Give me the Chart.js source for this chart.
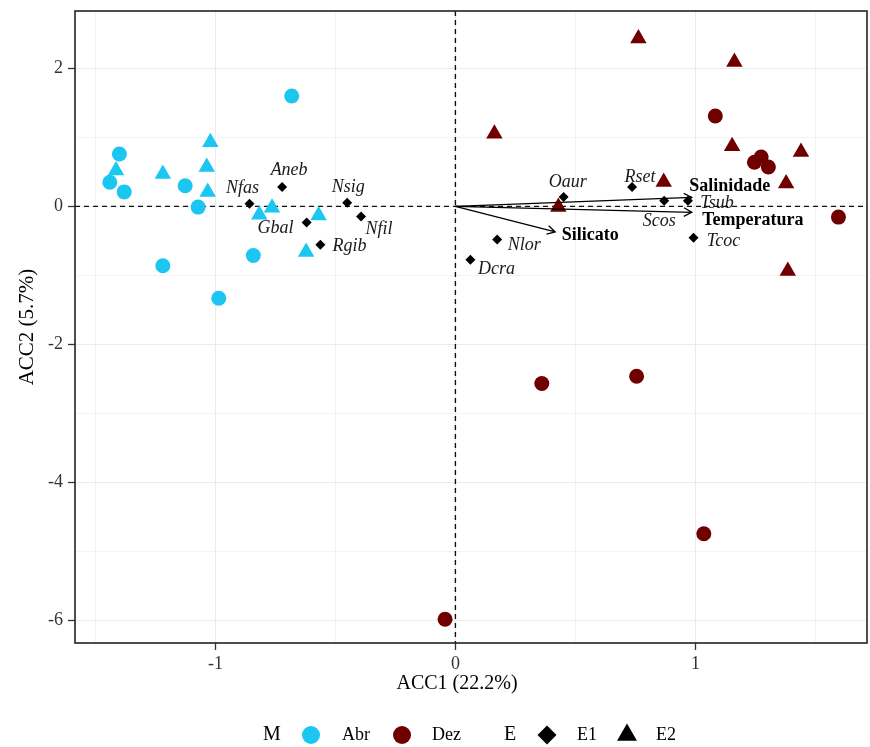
<!DOCTYPE html>
<html>
<head>
<meta charset="utf-8">
<script src="https://cdn.jsdelivr.net/npm/chart.js@4.4.1/dist/chart.umd.min.js"></script>
<style>
  html, body { margin: 0; padding: 0; background: #fff; }
  #wrap { width: 870px; height: 747px; }
</style>
</head>
<body>
<div id="wrap"><canvas id="chart1" width="870" height="747"></canvas></div>
<script>
//----------------- data ---------------------------------------------

// samples, month Abr (cyan) / Dez (dark red), station E1 (circle) / E2 (triangle)
const abrE1 = [[-0.682, 1.60], [-1.40, 0.76], [-1.44, 0.35], [-1.38, 0.21], [-1.126, 0.30],
               [-1.072, -0.01], [-1.219, -0.86], [-0.842, -0.71], [-0.986, -1.33]];
const abrE2 = [[-1.021, 0.93], [-1.414, 0.52], [-1.219, 0.47], [-1.036, 0.57], [-1.032, 0.21],
               [-0.817, -0.12], [-0.764, -0.02], [-0.570, -0.13], [-0.622, -0.66]];
const dezE1 = [[1.083, 1.31], [1.246, 0.64], [1.274, 0.715], [1.304, 0.57], [1.596, -0.155],
               [0.360, -2.565], [0.755, -2.46], [1.035, -4.74], [-0.043, -5.98]];
const dezE2 = [[0.7625, 2.43], [1.1625, 2.09], [0.1625, 1.054], [1.153, 0.87], [1.44, 0.787],
               [1.378, 0.33], [0.868, 0.352], [0.429, -0.01], [1.385, -0.937]];

// species scores
const speciesNames = ["Aneb", "Nfas", "Nsig", "Nfil", "Gbal", "Rgib", "Oaur",
                      "Rset", "Scos", "Tsub", "Tcoc", "Nlor", "Dcra"];
const speciesX = [-0.722, -0.858, -0.451, -0.393, -0.620, -0.5625, 0.451,
                  0.736, 0.870, 0.969, 0.992, 0.174, 0.0625];
const speciesY = [0.28, 0.04, 0.053, -0.145, -0.232, -0.555, 0.135,
                  0.28, 0.083, 0.083, -0.454, -0.478, -0.773];

// environmental vectors
const envNames = ["Salinidade", "Temperatura", "Silicato"];
const envX = [0.985, 0.985, 0.416];
const envY = [0.13, -0.085, -0.37];

// axes
const xTicks = [-1, 0, 1];
const yTicks = [2, 0, -2, -4, -6];
const xMinor = [-1.5, -0.5, 0.5, 1.5];
const yMinor = [1, -1, -3, -5];
const xTitle = "ACC1 (22.2%)";
const yTitle = "ACC2 (5.7%)";

//----------------- styles ----------------------------------------
const cyan = "#1bc6f1";
const darkRed = "#700000";
const serif = "'Liberation Serif', 'Times New Roman', serif";

// label offsets in px from the point (centre of text)
const speciesLabelPos = {
    Aneb: [7, -17], Nfas: [-7, -15], Nsig: [1, -15], Nfil: [18, 13], Gbal: [-31, 6],
    Rset: [8, -10], Rgib: [29, 2], Oaur: [4, -15], Scos: [-5, 21], Tsub: [29, 3],
    Tcoc: [30, 4], Nlor: [27, 6], Dcra: [26, 9]
};
const envLabelPos = { Salinidade: [38, -11], Temperatura: [61, 8], Silicato: [35, 3] };

const toPts = arr => arr.map(p => ({ x: p[0], y: p[1] }));

//----------------- plugins ----------------------------------------
const zeroLines = {
    id: "zeroLines",
    beforeDatasetsDraw(chart) {
        const { ctx, chartArea: a, scales: { x, y } } = chart;
        ctx.save();
        ctx.strokeStyle = "#111";
        ctx.lineWidth = 1.4;
        ctx.setLineDash([5, 4]);
        const px = x.getPixelForValue(0), py = y.getPixelForValue(0);
        ctx.beginPath();
        ctx.moveTo(px, a.top); ctx.lineTo(px, a.bottom);
        ctx.moveTo(a.left, py); ctx.lineTo(a.right, py);
        ctx.stroke();
        ctx.restore();
    }
};

const biplot = {
    id: "biplot",
    afterDatasetsDraw(chart) {
        const { ctx, scales: { x, y } } = chart;
        const ox = x.getPixelForValue(0), oy = y.getPixelForValue(0);
        ctx.save();
        ctx.strokeStyle = "#000";
        ctx.lineWidth = 1.3;
        ctx.setLineDash([]);
        for (let i = 0; i < envNames.length; i++) {
            const tx = x.getPixelForValue(envX[i]), ty = y.getPixelForValue(envY[i]);
            const ang = Math.atan2(ty - oy, tx - ox);
            ctx.beginPath();
            ctx.moveTo(ox, oy); ctx.lineTo(tx, ty);
            ctx.moveTo(tx - 9 * Math.cos(ang - 0.5), ty - 9 * Math.sin(ang - 0.5));
            ctx.lineTo(tx, ty);
            ctx.lineTo(tx - 9 * Math.cos(ang + 0.5), ty - 9 * Math.sin(ang + 0.5));
            ctx.stroke();
        }
        ctx.textAlign = "center";
        ctx.textBaseline = "middle";
        ctx.fillStyle = "#000";
        ctx.font = "bold 18px " + serif;
        for (let i = 0; i < envNames.length; i++) {
            const off = envLabelPos[envNames[i]];
            ctx.fillText(envNames[i], x.getPixelForValue(envX[i]) + off[0], y.getPixelForValue(envY[i]) + off[1]);
        }
        ctx.fillStyle = "#1a1a1a";
        ctx.font = "italic 18px " + serif;
        for (let i = 0; i < speciesNames.length; i++) {
            const off = speciesLabelPos[speciesNames[i]];
            ctx.fillText(speciesNames[i], x.getPixelForValue(speciesX[i]) + off[0], y.getPixelForValue(speciesY[i]) + off[1]);
        }
        ctx.restore();
    }
};

const frameAndLegend = {
    id: "frameAndLegend",
    afterDraw(chart) {
        const { ctx, chartArea: a } = chart;
        ctx.save();
        ctx.strokeStyle = "#222";
        ctx.lineWidth = 1.6;
        ctx.strokeRect(a.left, a.top, a.right - a.left, a.bottom - a.top);

        // x axis title (sits a little left of the panel centre in the original)
        ctx.textBaseline = "middle";
        ctx.textAlign = "center";
        ctx.fillStyle = "#000";
        ctx.font = "20px " + serif;
        ctx.fillText(xTitle, 457, 684);

        // legend along the bottom
        const ly = 735;
        ctx.font = "20px " + serif;
        ctx.fillText("M", 272, ly);
        ctx.fillText("E", 510, ly);
        ctx.textAlign = "left";
        ctx.font = "18px " + serif;
        ctx.fillText("Abr", 342, ly);
        ctx.fillText("Dez", 432, ly);
        ctx.fillText("E1", 577, ly);
        ctx.fillText("E2", 656, ly);
        const marks = [
            [cyan, "circle", 9, 311],
            [darkRed, "circle", 9, 402],
            ["#000", "rectRot", 9.5, 547],
            ["#000", "triangle", 11.5, 627]
        ];
        marks.forEach(m => {
            ctx.fillStyle = m[0];
            Chart.helpers.drawPoint(ctx, { pointStyle: m[1], radius: m[2], rotation: 0, borderWidth: 0 }, m[3], ly);
        });
        ctx.restore();
    }
};

//----------------- chart ----------------------------------------
function scatterSet(label, pts, color, style, radius) {
    return {
        label: label,
        data: pts,
        backgroundColor: color,
        borderColor: color,
        borderWidth: 0,
        pointStyle: style,
        pointRadius: radius,
        pointHoverRadius: radius
    };
}

function noPad(s) {
    s.paddingLeft = 0; s.paddingRight = 0; s.paddingTop = 0; s.paddingBottom = 0;
}

const tickFont = { family: serif, size: 18 };
const titleFont = { family: serif, size: 21 };

const config = {
    type: "scatter",
    data: {
        datasets: [
            scatterSet("Abr E1", toPts(abrE1), cyan, "circle", 7.5),
            scatterSet("Dez E1", toPts(dezE1), darkRed, "circle", 7.5),
            scatterSet("Abr E2", toPts(abrE2), cyan, "triangle", 9.5),
            scatterSet("Dez E2", toPts(dezE2), darkRed, "triangle", 9.5),
            scatterSet("Species", speciesX.map((v, i) => ({ x: v, y: speciesY[i] })), "#000", "rectRot", 5)
        ]
    },
    options: {
        responsive: false,
        animation: false,
        devicePixelRatio: 1,
        layout: { autoPadding: false, padding: { left: 0, top: 11, right: 3, bottom: 44 } },
        plugins: { legend: { display: false }, tooltip: { enabled: false } },
        scales: {
            x: {
                type: "linear",
                min: -1.585,
                max: 1.715,
                afterBuildTicks: s => { s.ticks = [...xMinor, ...xTicks].sort((a, b) => a - b).map(v => ({ value: v })); },
                afterFit: s => { s.height = 60; noPad(s); },
                ticks: {
                    autoSkip: false, maxRotation: 0, padding: 3, color: "#333", font: tickFont,
                    callback: v => xTicks.includes(v) ? String(v) : ""
                },
                grid: {
                    color: "#ebebeb",
                    lineWidth: c => xTicks.includes(c.tick.value) ? 1 : 0.6,
                    tickLength: 7,
                    tickColor: c => xTicks.includes(c.tick.value) ? "#333" : "rgba(0,0,0,0)",
                    tickWidth: 1.3
                },
                border: { display: false },
                title: { display: false }
            },
            y: {
                type: "linear",
                min: -6.323,
                max: 2.83,
                afterBuildTicks: s => { s.ticks = [...yMinor, ...yTicks].sort((a, b) => a - b).map(v => ({ value: v })); },
                afterFit: s => { s.width = 75; noPad(s); },
                ticks: {
                    autoSkip: false, padding: 5, color: "#333", font: tickFont,
                    callback: v => yTicks.includes(v) ? String(v) : ""
                },
                grid: {
                    color: "#ebebeb",
                    lineWidth: c => yTicks.includes(c.tick.value) ? 1 : 0.6,
                    tickLength: 7,
                    tickColor: c => yTicks.includes(c.tick.value) ? "#333" : "rgba(0,0,0,0)",
                    tickWidth: 1.3
                },
                border: { display: false },
                title: { display: true, text: yTitle, color: "#000", font: titleFont, padding: { top: 15, bottom: 0 } }
            }
        }
    },
    plugins: [zeroLines, biplot, frameAndLegend]
};

const myChart = new Chart(document.getElementById("chart1").getContext("2d"), config);
</script>
</body>
</html>
